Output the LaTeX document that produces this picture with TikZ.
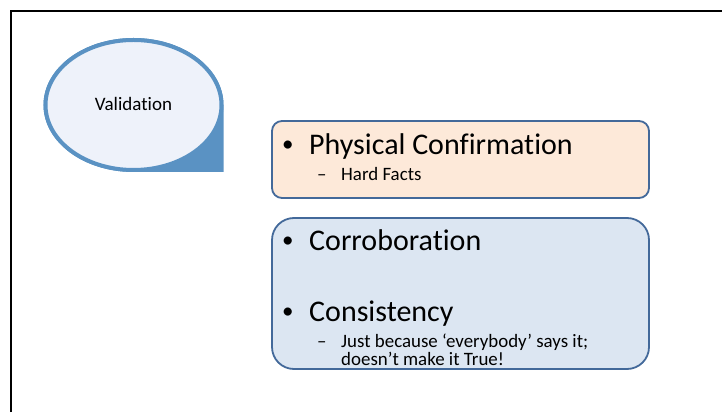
\documentclass[tikz,border=0pt]{standalone}
\usepackage{fontspec}
\setmainfont[Ligatures=NoCommon]{Carlito}
\usepackage{tikz}
\usetikzlibrary{calc}
\definecolor{dropblue}{HTML}{5A92C3}
\definecolor{droplight}{HTML}{EEF2FA}
\definecolor{boxline}{HTML}{43699A}
\definecolor{peach}{HTML}{FDE9D9}
\definecolor{paleblue}{HTML}{DCE6F2}
\begin{document}
\begin{tikzpicture}[x=1pt,y=1pt,
		bigtxt/.style={anchor=base west,inner sep=0pt,font=\fontsize{30}{36}\selectfont},
		smalltxt/.style={anchor=base west,inner sep=0pt,font=\fontsize{18.9}{22}\selectfont},
		dot/.style={anchor=base west,inner sep=0pt,yshift=3pt,font=\fontsize{23}{28}\selectfont},
		textbox/.style={draw=boxline,line width=1.8pt}]
		\useasboundingbox (0,0) rectangle (722,412);
		\draw[line width=2.4pt] (11,0) -- (11,401) -- (722,401);
		\filldraw[fill=dropblue,draw=dropblue,line width=4pt] (221.5,307) -- (221.5,242) -- (133.5,242) arc[start angle=270,end angle=0,x radius=88,y radius=65] -- cycle;
		\filldraw[fill=droplight,draw=dropblue,line width=4pt] (133.5,307) ellipse[x radius=88,y radius=65];
		\node[font=\fontsize{19}{23}\selectfont] (valid) at (133.5,308) {Validation};
		\filldraw[textbox,fill=peach,rounded corners=10pt] (272,291) rectangle (649,214);
		\filldraw[textbox,fill=paleblue,rounded corners=22pt] (272,194) rectangle (649,43);
		\node[dot] (b1) at (282,257) {•};
		\node[bigtxt] (phys) at (309,257) {Physical Confirmation};
		\node[smalltxt] (d1) at (317,231) {–};
		\node[smalltxt] (hard) at (341,231) {Hard Facts};
		\node[dot] (b2) at (282,161) {•};
		\node[bigtxt] (corr) at (309,161) {Corroboration};
		\node[dot] (b3) at (282,90) {•};
		\node[bigtxt] (cons) at (309,90) {Consistency};
		\node[smalltxt] (d3) at (317,64) {–};
		\node[smalltxt] (just) at (341,64) {Just because ‘everybody’ says it;};
		\node[smalltxt] (true) at (341,46) {doesn’t make it True!};
	\end{tikzpicture}
\end{document}
